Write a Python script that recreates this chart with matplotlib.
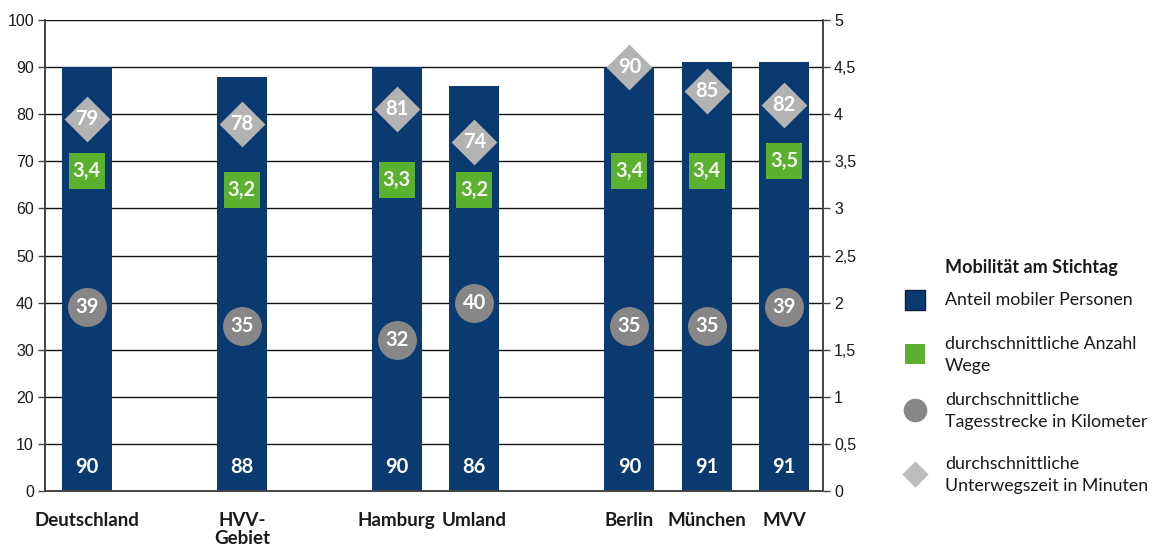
import matplotlib
matplotlib.use("Agg")
import matplotlib.pyplot as plt
from matplotlib.lines import Line2D

# Data
categories = ["Deutschland", "HVV-\nGebiet", "Hamburg", "Umland", "Berlin", "München", "MVV"]
positions = [0, 2, 4, 5, 7, 8, 9]
anteil_mobil = [90, 88, 90, 86, 90, 91, 91]            # % mobile persons (left axis)
anzahl_wege = [3.4, 3.2, 3.3, 3.2, 3.4, 3.4, 3.5]       # trips per day (right axis)
tagesstrecke_km = [39, 35, 32, 40, 35, 35, 39]          # km per day (left axis)
unterwegszeit_min = [79, 78, 81, 74, 90, 85, 82]        # minutes per day (left axis)

left_ticks = list(range(0, 101, 10))
right_ticks = [0, 0.5, 1, 1.5, 2, 2.5, 3, 3.5, 4, 4.5, 5]
right_ticklabels = ["0", "0,5", "1", "1,5", "2", "2,5", "3", "3,5", "4", "4,5", "5"]

legend_title = "Mobilität am Stichtag"
legend_labels = ["Anteil mobiler Personen",
                 "durchschnittliche Anzahl\nWege",
                 "durchschnittliche\nTagesstrecke in Kilometer",
                 "durchschnittliche\nUnterwegszeit in Minuten"]

NAVY = "#0b3a70"
GREEN = "#5bb030"
CIRCLE = "#878787"
DIAMOND = "#b3b3b3"
TEXT = "#1a1a1a"
VALUE_FS = 14.5

plt.rcParams["font.family"] = ["Lato", "DejaVu Sans"]

fig = plt.figure(figsize=(11.72, 5.49), dpi=100)
ax = fig.add_axes([0.0384, 0.1056, 0.6638, 0.858])
ax2 = ax.twinx()

ax.set_xlim(-0.54, 9.5)
ax.set_ylim(0, 100)
ax2.set_ylim(0, 5)

# horizontal grid
ax.set_axisbelow(True)
for t in left_ticks[1:]:
    ax.axhline(t, color="#111111", lw=1.0, zorder=0)

ax.bar(positions, anteil_mobil, width=0.645, color=NAVY, zorder=2)
for x, v in zip(positions, anteil_mobil):
    ax.text(x, 5.2, f"{v}", ha="center", va="center", color="white",
            fontsize=VALUE_FS, fontweight="bold", zorder=5)

# km per day: circles on left axis
ax.plot(positions, tagesstrecke_km, ls="none", marker="o", markersize=28,
        color=CIRCLE, markeredgewidth=0, zorder=3)
for x, v in zip(positions, tagesstrecke_km):
    ax.text(x, v, f"{v}", ha="center", va="center", color="white",
            fontsize=VALUE_FS, fontweight="bold", zorder=5)

# minutes: diamonds on left axis
ax.plot(positions, unterwegszeit_min, ls="none", marker=(4, 0, 0), markersize=33,
        color=DIAMOND, markeredgewidth=0, zorder=3)
for x, v in zip(positions, unterwegszeit_min):
    ax.text(x, v, f"{v}", ha="center", va="center", color="white",
            fontsize=VALUE_FS, fontweight="bold", zorder=5)

# trips: green squares on right axis
ax2.plot(positions, anzahl_wege, ls="none", marker="s", markersize=26.5,
         color=GREEN, markeredgewidth=0, zorder=3)
for x, v in zip(positions, anzahl_wege):
    ax2.text(x, v, f"{v:.1f}".replace(".", ","), ha="center", va="center",
             color="#f2f7ee", fontsize=VALUE_FS, fontweight="bold", zorder=5)

# axes styling
ax.set_yticks(left_ticks)
ax.set_yticklabels([str(t) for t in left_ticks], fontsize=11.5, color=TEXT,
                   family=["Liberation Sans", "DejaVu Sans"])
ax2.set_yticks(right_ticks)
ax2.set_yticklabels(right_ticklabels, fontsize=11.5, color=TEXT,
                    family=["Liberation Sans", "DejaVu Sans"])
ax.tick_params(axis="y", length=5, width=1, color="#444444", pad=3)
ax2.tick_params(axis="y", length=5, width=1, color="#444444", pad=3)
ax.set_xticks(positions)
ax.set_xticklabels(categories, fontsize=13.5, fontweight="bold", color=TEXT,
                   va="top", linespacing=1.1)
ax.tick_params(axis="x", length=0, pad=15)

for a in (ax, ax2):
    a.spines["top"].set_visible(False)
    for s in ("left", "right", "bottom"):
        a.spines[s].set_color("#444444")
        a.spines[s].set_linewidth(1.2)

# legend drawn in pixel space
lg = fig.add_axes([0, 0, 1, 1], facecolor="none")
lg.set_xlim(0, 1172)
lg.set_ylim(549, 0)
lg.axis("off")
lg.text(945, 267, legend_title, fontsize=13, fontweight="bold", color=TEXT,
        va="center", ha="left")
handles = [
    dict(marker="s", color=NAVY, ms=14, mec="#0a2240", mew=1.0, y=300),
    dict(marker="s", color=GREEN, ms=14.5, mec=GREEN, mew=0, y=354),
    dict(marker="o", color=CIRCLE, ms=17, mec=CIRCLE, mew=0, y=410),
    dict(marker=(4, 0, 0), color="#bdbdbd", ms=19, mec="#bdbdbd", mew=0, y=474),
]
text_y = [300, 355, 411, 475]
for h, label, ty in zip(handles, legend_labels, text_y):
    lg.add_line(Line2D([915], [h["y"]], ls="none", marker=h["marker"],
                       markersize=h["ms"], markerfacecolor=h["color"],
                       markeredgecolor=h["mec"], markeredgewidth=h["mew"]))
    lg.text(945, ty, label, fontsize=12.8, color=TEXT, va="center", ha="left",
            linespacing=1.4)

fig.savefig("out.png", dpi=100, facecolor="white")
